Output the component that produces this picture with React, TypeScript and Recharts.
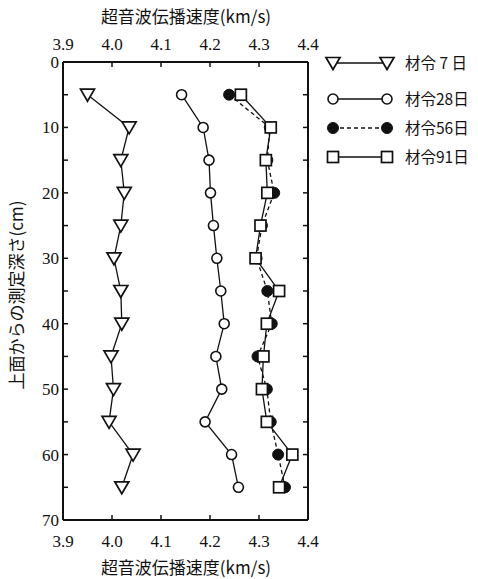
import { LineChart, Line, XAxis, YAxis, Legend } from 'recharts'

// depth below the top surface (cm)
const depths = [5, 10, 15, 20, 25, 30, 35, 40, 45, 50, 55, 60, 65]

// ultrasonic pulse velocity (km/s) per age
const age7 = [3.95, 4.035, 4.018, 4.025, 4.018, 4.004, 4.018, 4.02, 3.998, 4.003, 3.994, 4.043, 4.02]
const age28 = [4.142, 4.186, 4.198, 4.201, 4.207, 4.214, 4.222, 4.229, 4.212, 4.224, 4.19, 4.244, 4.258]
const age56 = [4.239, 4.322, 4.317, 4.331, 4.306, 4.295, 4.317, 4.326, 4.297, 4.316, 4.324, 4.339, 4.353]
const age91 = [4.263, 4.324, 4.314, 4.317, 4.303, 4.293, 4.341, 4.316, 4.309, 4.306, 4.316, 4.368, 4.341]

const speedTicks = [3.9, 4.0, 4.1, 4.2, 4.3, 4.4]
const depthTicks = [0, 5, 10, 15, 20, 25, 30, 35, 40, 45, 50, 55, 60, 65, 70]

const seriesLabels = ['材令 7 日', '材令28日', '材令56日', '材令91日']

const data = depths.map((d, i) => ({
  depth: d,
  age7: age7[i],
  age28: age28[i],
  age56: age56[i],
  age91: age91[i],
}))

const INK = '#111'
const SERIF = '"Times New Roman", "Liberation Serif", "DejaVu Serif", serif'
const CJK = '"Noto Sans CJK JP", sans-serif'

// ---------------------------------------------------------------------------
// markers
// ---------------------------------------------------------------------------

function triangle(cx: number, cy: number, key?: any) {
  return (
    <path
      key={key}
      d={`M${cx - 7},${cy - 5.5} L${cx + 7},${cy - 5.5} L${cx},${cy + 6.5} Z`}
      fill="#fff"
      stroke={INK}
      strokeWidth={1.7}
    />
  )
}
function openCircle(cx: number, cy: number, key?: any) {
  return <circle key={key} cx={cx} cy={cy} r={5} fill="#fff" stroke={INK} strokeWidth={1.6} />
}
function filledCircle(cx: number, cy: number, key?: any) {
  return <circle key={key} cx={cx} cy={cy} r={5.5} fill={INK} stroke={INK} strokeWidth={1} />
}
function square(cx: number, cy: number, key?: any) {
  return (
    <rect key={key} x={cx - 5.5} y={cy - 5.5} width={11} height={11} fill="#fff" stroke={INK} strokeWidth={1.7} />
  )
}

const markers = [triangle, openCircle, filledCircle, square]

const dotOf = (fn: (cx: number, cy: number, key?: any) => any) => (p: any) => fn(p.cx, p.cy, p.index)

// ---------------------------------------------------------------------------
// ticks (inward tick marks, labels outside)
// ---------------------------------------------------------------------------

const TICK = 5
const tickText = { fontFamily: SERIF, fontSize: 17, fill: INK }

function BottomTick({ x, y, payload }: any) {
  const inner = payload.value > 3.9 && payload.value < 4.4
  return (
    <g>
      {inner && <line x1={x} y1={y} x2={x} y2={y - TICK} stroke={INK} strokeWidth={1.5} />}
      <text x={x} y={y + 27} textAnchor="middle" style={tickText}>
        {payload.value.toFixed(1)}
      </text>
    </g>
  )
}

function TopTick({ x, y, payload }: any) {
  const inner = payload.value > 3.9 && payload.value < 4.4
  return (
    <g>
      {inner && <line x1={x} y1={y} x2={x} y2={y + TICK} stroke={INK} strokeWidth={1.5} />}
      <text x={x} y={y - 12} textAnchor="middle" style={tickText}>
        {payload.value.toFixed(1)}
      </text>
    </g>
  )
}

function LeftTick({ x, y, payload }: any) {
  const v = payload.value
  const inner = v > 0 && v < 70
  return (
    <g>
      {inner && <line x1={x} y1={y} x2={x + TICK} y2={y} stroke={INK} strokeWidth={1.5} />}
      {v % 10 === 0 && (
        <text x={x - 4} y={y + 6} textAnchor="end" style={tickText}>
          {v}
        </text>
      )}
    </g>
  )
}

function RightTick({ x, y, payload }: any) {
  const v = payload.value
  if (v <= 0 || v >= 70) return <g />
  return <line x1={x} y1={y} x2={x - TICK} y2={y} stroke={INK} strokeWidth={1.5} />
}

// ---------------------------------------------------------------------------
// legend
// ---------------------------------------------------------------------------

const legendRows = [13, 49, 78, 107]

function LegendBox() {
  return (
    <svg width={158} height={125}>
      {seriesLabels.map((label, i) => (
        <g key={label}>
          <line
            x1={13}
            x2={67}
            y1={legendRows[i]}
            y2={legendRows[i]}
            stroke={INK}
            strokeWidth={1.3}
            strokeDasharray={i === 2 ? '4 3' : undefined}
          />
          {markers[i](13, legendRows[i])}
          {markers[i](67, legendRows[i])}
          <text x={85} y={legendRows[i] + 6} style={{ fontFamily: CJK, fontSize: 15.5, fill: INK }}>
            {label}
          </text>
        </g>
      ))}
    </svg>
  )
}

// ---------------------------------------------------------------------------
// chart
// ---------------------------------------------------------------------------

const axisLine = { stroke: INK, strokeWidth: 2 }
const titleStyle = { fontFamily: CJK, fontSize: 17, fill: INK }

export default function App() {
  return (
    <div style={{ position: 'absolute', left: 0, top: 0, width: 478, height: 579, background: '#fff' }}>
      <LineChart
        layout="vertical"
        width={478}
        height={579}
        data={data}
        margin={{ top: 32, right: 160, bottom: 29, left: 23 }}
      >
        <XAxis
          xAxisId="bottom"
          type="number"
          orientation="bottom"
          domain={[3.9, 4.4]}
          ticks={speedTicks}
          allowDataOverflow
          height={30}
          tickSize={0}
          tickMargin={0}
          tickLine={false}
          axisLine={axisLine}
          tick={BottomTick}
          interval={0}
          label={{
            content: () => (
              <text x={186} y={574} textAnchor="middle" style={titleStyle}>
                超音波伝播速度(km/s)
              </text>
            ),
          }}
        />
        <XAxis
          xAxisId="top"
          type="number"
          orientation="top"
          domain={[3.9, 4.4]}
          ticks={speedTicks}
          allowDataOverflow
          height={30}
          tickSize={0}
          tickMargin={0}
          tickLine={false}
          axisLine={axisLine}
          tick={TopTick}
          interval={0}
          label={{
            content: () => (
              <text x={186} y={23} textAnchor="middle" style={titleStyle}>
                超音波伝播速度(km/s)
              </text>
            ),
          }}
        />
        <YAxis
          yAxisId="left"
          type="number"
          dataKey="depth"
          domain={[0, 70]}
          ticks={depthTicks}
          interval={0}
          width={40}
          tickSize={0}
          tickMargin={0}
          tickLine={false}
          axisLine={axisLine}
          tick={LeftTick}
          label={{
            content: () => (
              <text x={0} y={0} transform="translate(23,295) rotate(-90)" textAnchor="middle" style={titleStyle}>
                上面からの測定深さ(cm)
              </text>
            ),
          }}
        />
        <YAxis
          yAxisId="right"
          orientation="right"
          type="number"
          dataKey="depth"
          domain={[0, 70]}
          ticks={depthTicks}
          interval={0}
          width={10}
          tickSize={0}
          tickMargin={0}
          tickLine={false}
          axisLine={axisLine}
          tick={RightTick}
        />

        <Legend
          layout="horizontal"
          align="center"
          verticalAlign="middle"
          wrapperStyle={{ left: 320, top: 50, width: 158, height: 125 }}
          content={() => <LegendBox />}
        />

        <Line
          xAxisId="bottom"
          yAxisId="left"
          dataKey="age7"
          stroke={INK}
          strokeWidth={1.3}
          dot={dotOf(triangle)}
          activeDot={false}
          isAnimationActive={false}
        />
        <Line
          xAxisId="bottom"
          yAxisId="left"
          dataKey="age28"
          stroke={INK}
          strokeWidth={1.3}
          dot={dotOf(openCircle)}
          activeDot={false}
          isAnimationActive={false}
        />
        <Line
          xAxisId="bottom"
          yAxisId="left"
          dataKey="age56"
          stroke={INK}
          strokeWidth={1.3}
          strokeDasharray="4 3"
          dot={dotOf(filledCircle)}
          activeDot={false}
          isAnimationActive={false}
        />
        <Line
          xAxisId="bottom"
          yAxisId="left"
          dataKey="age91"
          stroke={INK}
          strokeWidth={1.3}
          dot={dotOf(square)}
          activeDot={false}
          isAnimationActive={false}
        />
      </LineChart>
    </div>
  )
}
